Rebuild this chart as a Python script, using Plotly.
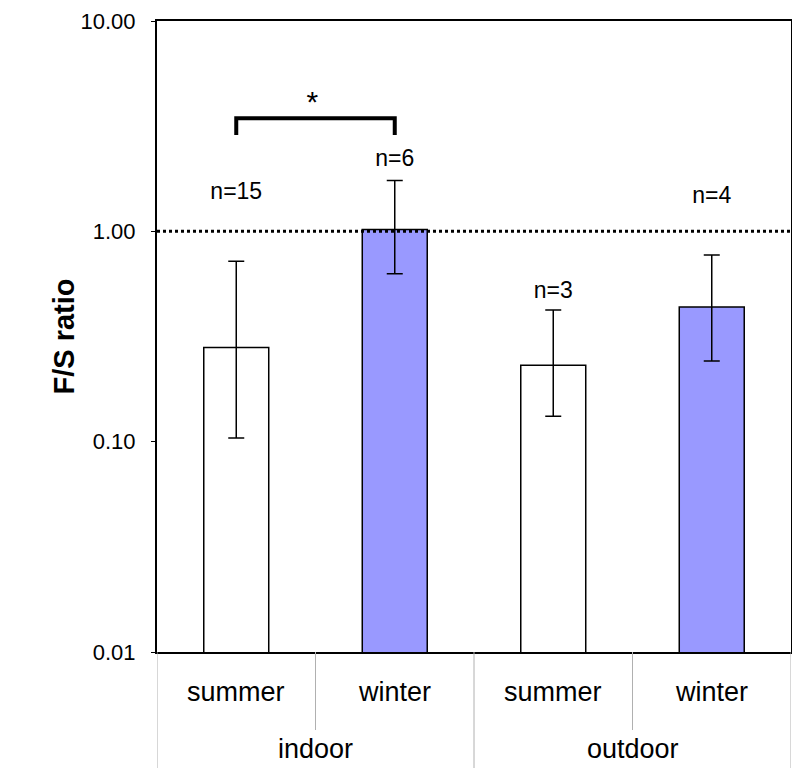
import plotly.graph_objects as go

# ---- data ----
locations = ["indoor", "indoor", "outdoor", "outdoor"]
seasons = ["summer", "winter", "summer", "winter"]
fs_ratio = [0.280, 1.02, 0.231, 0.437]
err_upper = [0.720, 1.746, 0.423, 0.772]
err_lower = [0.104, 0.629, 0.132, 0.242]
n_labels = ["n=15", "n=6", "n=3", "n=4"]
ref_line = 1.0
ytick_vals = [0.01, 0.1, 1, 10]
ytick_text = ["0.01", "0.10", "1.00", "10.00"]

# label placement (y positions in data units)
n_label_y = [1.52, 2.18, 0.516, 1.46]
bracket_y = [2.87, 3.45, 3.45, 2.87]
star_y = 4.0

bar_colors = ["#FFFFFF" if s == "summer" else "#9999FF" for s in seasons]
xpos = list(range(len(fs_ratio)))
FONT = "Arial, Liberation Sans, sans-serif"

fig = go.Figure()
fig.add_trace(go.Bar(
    x=xpos, y=fs_ratio, width=0.41,
    marker=dict(color=bar_colors, line=dict(color="black", width=1.5)),
    error_y=dict(type="data", symmetric=False,
                 array=[u - v for u, v in zip(err_upper, fs_ratio)],
                 arrayminus=[v - l for v, l in zip(fs_ratio, err_lower)],
                 color="black", thickness=1.5, width=8),
))
fig.add_trace(go.Scatter(
    x=[-0.5, 3.5], y=[ref_line, ref_line], mode="lines",
    line=dict(color="black", width=3, dash="dot"), hoverinfo="skip"))
fig.add_trace(go.Scatter(
    x=[0, 0, 1, 1], y=bracket_y, mode="lines",
    line=dict(color="black", width=4), hoverinfo="skip"))
fig.add_trace(go.Scatter(
    x=[0.48], y=[star_y], mode="text", text=["*"],
    textfont=dict(family=FONT, size=30, color="black")))
fig.add_trace(go.Scatter(
    x=xpos, y=n_label_y, mode="text", text=n_labels,
    textfont=dict(family=FONT, size=23, color="black")))

# category labels
plot_h = 631.0
def py(pix):
    return -(pix - 652) / plot_h

for i, s in enumerate(seasons):
    fig.add_annotation(x=i, y=py(692), xref="x", yref="paper", text=s,
                       showarrow=False, yanchor="middle",
                       font=dict(family=FONT, size=27, color="black"))
groups = []
for i, loc in enumerate(locations):
    if not groups or groups[-1][0] != loc:
        groups.append([loc, i, i])
    else:
        groups[-1][2] = i
for loc, a, b in groups:
    fig.add_annotation(x=(a + b) / 2, y=py(749), xref="x", yref="paper", text=loc,
                       showarrow=False, yanchor="middle",
                       font=dict(family=FONT, size=27, color="black"))

# dividers
for i in range(len(seasons) + 1):
    xb = i - 0.5
    long_line = (i == 0) or (i == len(seasons)) or (locations[i - 1] != locations[i])
    fig.add_shape(type="line", xref="x", yref="paper", x0=xb, x1=xb,
                  y0=0, y1=py(768) if long_line else py(730),
                  line=dict(color="#b0b0b0", width=1))

# y title
fig.add_annotation(x=0, xref="paper", xshift=-112, y=0.5, yref="paper",
                   text="<b>F/S ratio</b>", textangle=-90, showarrow=False,
                   font=dict(family=FONT, size=29, color="black"))

# page body has an 8px margin, so the figure is sized/placed to compensate
fig.update_layout(
    width=792, height=767,
    margin=dict(l=149, r=9, t=13, b=123, autoexpand=False),
    plot_bgcolor="white", paper_bgcolor="white",
    showlegend=False,
    font=dict(family=FONT, color="black"),
)
fig.update_xaxes(range=[-0.5, 3.5], showticklabels=False, ticks="",
                 showline=True, mirror=True, linecolor="black", linewidth=2,
                 showgrid=False, zeroline=False, automargin=False)
fig.update_yaxes(type="log", range=[-2, 1], tickvals=ytick_vals, ticktext=ytick_text,
                 ticks="outside", ticklen=4, tickcolor="black",
                 ticklabelstandoff=11,
                 tickfont=dict(family=FONT, size=22, color="black"),
                 showline=True, mirror=True, linecolor="black", linewidth=2,
                 showgrid=False, zeroline=False, automargin=False)

fig.write_html("out.html")
